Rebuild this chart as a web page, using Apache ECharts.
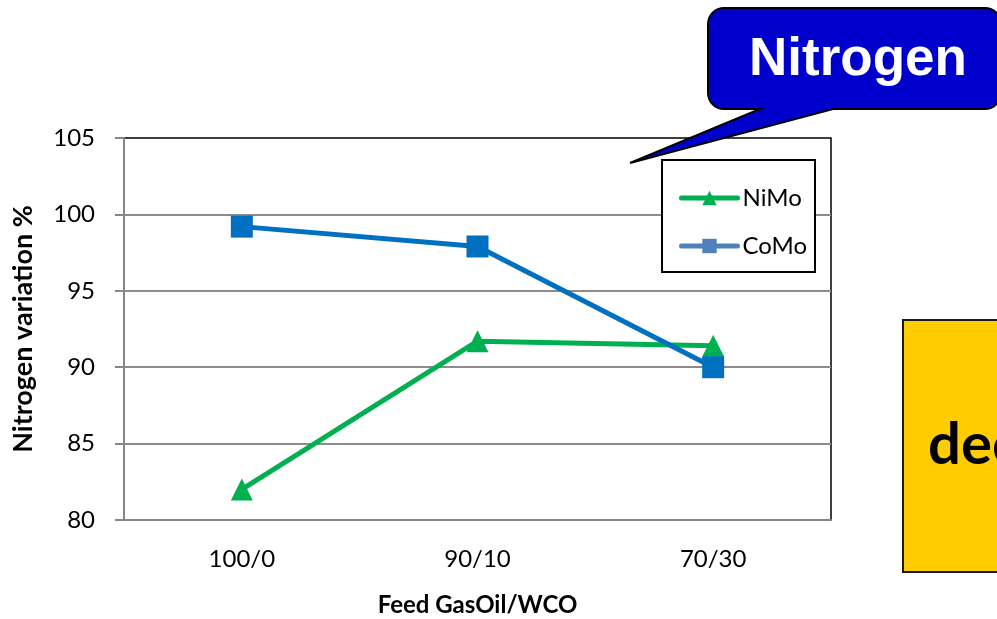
<!DOCTYPE html>
<html>
<head>
<meta charset="utf-8">
<script src="https://cdn.jsdelivr.net/npm/echarts@6/dist/echarts.min.js"></script>
<style>
  html, body { margin: 0; padding: 0; background: #ffffff; }
  #chart { width: 997px; height: 619px; }
</style>
</head>
<body>
<div id="chart"></div>
<script>
// Feed blend ratios (GasOil / WCO)
var categories = ['100/0', '90/10', '70/30'];
// Nitrogen variation (%) per catalyst
var nimoValues = [82.0, 91.7, 91.4];
var comoValues = [99.2, 97.9, 90.0];
// Value axis range
var yMin = 80, yMax = 105, yStep = 5;

var chart = echarts.init(document.getElementById('chart'), null, { renderer: 'canvas' });

var baseFont = 'Lato, "Open Sans", sans-serif';
var axisGray = '#868686';

// Quarter-circle corner points for the speech bubble outline
function corner(cx, cy, r, a0, a1) {
  var pts = [];
  for (var i = 0; i <= 8; i++) {
    var a = (a0 + (a1 - a0) * i / 8) * Math.PI / 180;
    pts.push([cx + r * Math.cos(a), cy + r * Math.sin(a)]);
  }
  return pts;
}
var R = 16;
var bx0 = 708, by0 = 8, bx1 = 1001, by1 = 109;
var bubble = []
  .concat(corner(bx0 + R, by0 + R, R, 180, 270))
  .concat(corner(bx1 - R, by0 + R, R, 270, 360))
  .concat(corner(bx1 - R, by1 - R, R, 0, 90))
  .concat([[833, by1], [630, 163], [760, by1]])
  .concat(corner(bx0 + R, by1 - R, R, 90, 180));

chart.setOption({
  backgroundColor: '#ffffff',
  animation: false,
  textStyle: { fontFamily: baseFont },
  grid: {
    left: 124, top: 138, width: 707, height: 382,
    containLabel: false,
    outerBoundsMode: 'none',
    show: true, borderColor: '#000000', borderWidth: 1.5,
    backgroundColor: 'transparent'
  },
  legend: {
    orient: 'vertical',
    left: 679, top: 186,
    itemWidth: 56, itemHeight: 18, itemGap: 24,
    padding: 0,
    z: 5,
    textStyle: { fontFamily: baseFont, fontSize: 24, color: '#000000' },
    lineStyle: { width: 5, cap: 'round' },
    data: [
      { name: 'NiMo' },
      { name: 'CoMo', itemStyle: { color: '#4F81BD' }, lineStyle: { color: '#4F81BD', width: 5, cap: 'round' } }
    ]
  },
  xAxis: {
    type: 'category',
    data: categories,
    boundaryGap: true,
    name: 'Feed GasOil/WCO',
    nameLocation: 'middle',
    nameGap: 73,
    nameTextStyle: { fontFamily: baseFont, fontSize: 24, fontWeight: 'bold', color: '#000000' },
    axisLine: { lineStyle: { color: axisGray, width: 2 } },
    axisTick: { show: false },
    axisLabel: { fontFamily: baseFont, fontSize: 24, color: '#000000', margin: 27 },
    splitLine: { show: false }
  },
  yAxis: {
    type: 'value',
    min: yMin, max: yMax, interval: yStep,
    name: 'Nitrogen variation %',
    nameLocation: 'middle',
    nameGap: 87,
    nameTextStyle: { fontFamily: baseFont, fontSize: 27, fontWeight: 'bold', color: '#000000' },
    axisLine: { show: true, lineStyle: { color: axisGray, width: 2 } },
    axisTick: { show: true, inside: false, length: 9, lineStyle: { color: axisGray, width: 2 } },
    axisLabel: { fontFamily: baseFont, fontSize: 24, color: '#000000', margin: 29 },
    splitLine: { show: true, showMinLine: false, showMaxLine: false, lineStyle: { color: '#8C8C8C', width: 2 } }
  },
  series: [
    {
      name: 'NiMo',
      type: 'line',
      data: nimoValues,
      symbol: 'triangle',
      symbolSize: 22,
      lineStyle: { color: '#00B050', width: 5 },
      itemStyle: { color: '#00B050' },
      z: 3
    },
    {
      name: 'CoMo',
      type: 'line',
      data: comoValues,
      symbol: 'rect',
      symbolSize: 22,
      lineStyle: { color: '#0070C0', width: 5 },
      itemStyle: { color: '#0070C0' },
      z: 4
    }
  ],
  graphic: [
    // Legend frame
    {
      type: 'rect', z: 1,
      shape: { x: 662, y: 160, width: 153, height: 112 },
      style: { fill: '#ffffff', stroke: '#000000', lineWidth: 2 }
    },
    // Speech-bubble callout
    {
      type: 'polygon', z: 10,
      shape: { points: bubble },
      style: { fill: '#0000CC', stroke: '#000000', lineWidth: 2 }
    },
    {
      type: 'text', z: 11,
      left: 857 - 108, top: 34,
      style: {
        text: 'Nitrogen',
        fill: '#ffffff',
        font: 'bold 53px "Liberation Sans", Arial, sans-serif'
      }
    },
    // Yellow note box
    {
      type: 'rect', z: 10,
      shape: { x: 903, y: 320, width: 110, height: 252 },
      style: { fill: '#FFCC00', stroke: '#1a1a1a', lineWidth: 2 }
    },
    {
      type: 'text', z: 11,
      left: 928, top: 416,
      style: {
        text: 'dec',
        fill: '#000000',
        font: 'bold 58px Lato, "Open Sans", sans-serif'
      }
    }
  ]
});
</script>
</body>
</html>
